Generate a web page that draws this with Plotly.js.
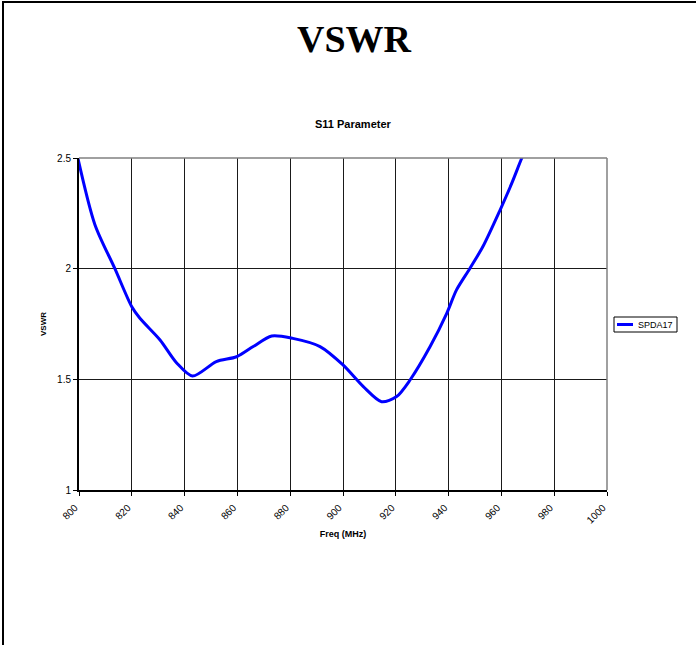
<!DOCTYPE html>
<html>
<head>
<meta charset="utf-8">
<script src="https://cdn.plot.ly/plotly-3.0.1.min.js"></script>
<style>
html,body{margin:0;padding:0;background:#fff;}
#wrap{position:relative;width:698px;height:645px;}
#chart{position:absolute;left:0;top:0;width:698px;height:645px;}
#frame{position:absolute;left:2px;top:1px;width:694px;height:644px;border-top:2px solid #000;border-left:2px solid #000;box-sizing:border-box;pointer-events:none;}
</style>
</head>
<body>
<div id="wrap"><div id="chart"></div><div id="frame"></div></div>
<script>
const mainTitle = "VSWR";
const chartTitle = "S11 Parameter";
const xTitle = "Freq (MHz)";
const yTitle = "VSWR";
const seriesName = "SPDA17";
const freq = [799, 806, 813.6, 820, 823, 830.7, 837, 843, 852, 859.7, 866, 873, 881, 891.3, 900, 907.7, 914.6, 920.3, 925.4, 933, 939.3, 943, 948, 953, 959.5, 963.9, 967.7, 970];
const vswr = [2.53, 2.20, 2.00, 1.828, 1.777, 1.678, 1.574, 1.515, 1.580, 1.602, 1.648, 1.696, 1.685, 1.648, 1.565, 1.467, 1.399, 1.422, 1.497, 1.648, 1.798, 1.904, 2.00, 2.10, 2.265, 2.385, 2.499, 2.56];
const xTicks = [800, 820, 840, 860, 880, 900, 920, 940, 960, 980, 1000];
const yTicks = [1, 1.5, 2, 2.5];
const yTickText = ['1', '1.5', '2', '2.5'];

const F = "Liberation Sans, Arial, sans-serif";
const L = 79, R = 607, T = 158, B = 490, W = 698, H = 645;
const px = v => (v - L) / (R - L);
const py = v => (B - v) / (B - T);

const trace = {
  x: freq, y: vswr, type: 'scatter', mode: 'lines', name: seriesName,
  line: {color: '#0000FF', width: 3, shape: 'spline', smoothing: 0.8},
  hoverinfo: 'skip'
};

const layout = {
  width: W, height: H,
  margin: {l: L, r: W - R, t: T, b: H - B, pad: 0},
  paper_bgcolor: '#fff', plot_bgcolor: '#fff',
  showlegend: false,
  title: {text: '<b>' + mainTitle + '</b>', font: {family: 'Liberation Serif, Times New Roman, serif', size: 38, color: '#000'},
          x: px(354), xref: 'paper', xanchor: 'center', y: 1 - 39/H, yref: 'container', yanchor: 'middle'},
  xaxis: {
    range: [800, 1000], tickvals: xTicks, ticktext: xTicks.map(String), tickangle: -45,
    tickfont: {family: F, size: 10, color: '#000'},
    ticks: 'outside', ticklen: 4, tickcolor: '#000', tickwidth: 1,
    ticklabelshift: -4, ticklabelstandoff: 2,
    showgrid: true, gridcolor: '#1a1a1a', gridwidth: 1,
    showline: true, linecolor: '#000', linewidth: 2, zeroline: false,
    title: {text: '<b>' + xTitle + '</b>', font: {family: F, size: 9, color: '#000'}, standoff: 6}
  },
  yaxis: {
    range: [1, 2.5], tickvals: yTicks, ticktext: yTickText,
    tickfont: {family: F, size: 10, color: '#000'},
    ticks: 'outside', ticklen: 4, tickcolor: '#000', tickwidth: 1,
    showgrid: true, gridcolor: '#1a1a1a', gridwidth: 1,
    showline: true, linecolor: '#000', linewidth: 2, zeroline: false,
    title: {text: '<b>' + yTitle + '</b>', font: {family: F, size: 8, color: '#000'}, standoff: 9}
  },
  annotations: [
    {text: '<b>' + chartTitle + '</b>', xref: 'paper', yref: 'paper', x: px(353.5), y: py(124),
     xanchor: 'center', yanchor: 'middle', showarrow: false, font: {family: F, size: 11, color: '#000'}},
    {text: seriesName, xref: 'paper', yref: 'paper', x: px(636), y: py(324.5),
     xanchor: 'left', yanchor: 'middle', showarrow: false, font: {family: F, size: 9, color: '#000'}}
  ],
  shapes: [
    {type: 'line', xref: 'paper', yref: 'paper', x0: 0, x1: 1, y0: 1, y1: 1, line: {color: '#808080', width: 1.5}},
    {type: 'line', xref: 'paper', yref: 'paper', x0: 1, x1: 1, y0: 0, y1: 1, line: {color: '#808080', width: 1.5}},
    {type: 'rect', xref: 'paper', yref: 'paper', x0: px(614), x1: px(677), y0: py(317), y1: py(332), line: {color: '#000', width: 1}, fillcolor: '#fff'},
    {type: 'line', xref: 'paper', yref: 'paper', x0: px(617), x1: px(633), y0: py(324.5), y1: py(324.5), line: {color: '#0000FF', width: 3}}
  ]
};

Plotly.newPlot('chart', [trace], layout, {staticPlot: true, displayModeBar: false});
</script>
</body>
</html>
